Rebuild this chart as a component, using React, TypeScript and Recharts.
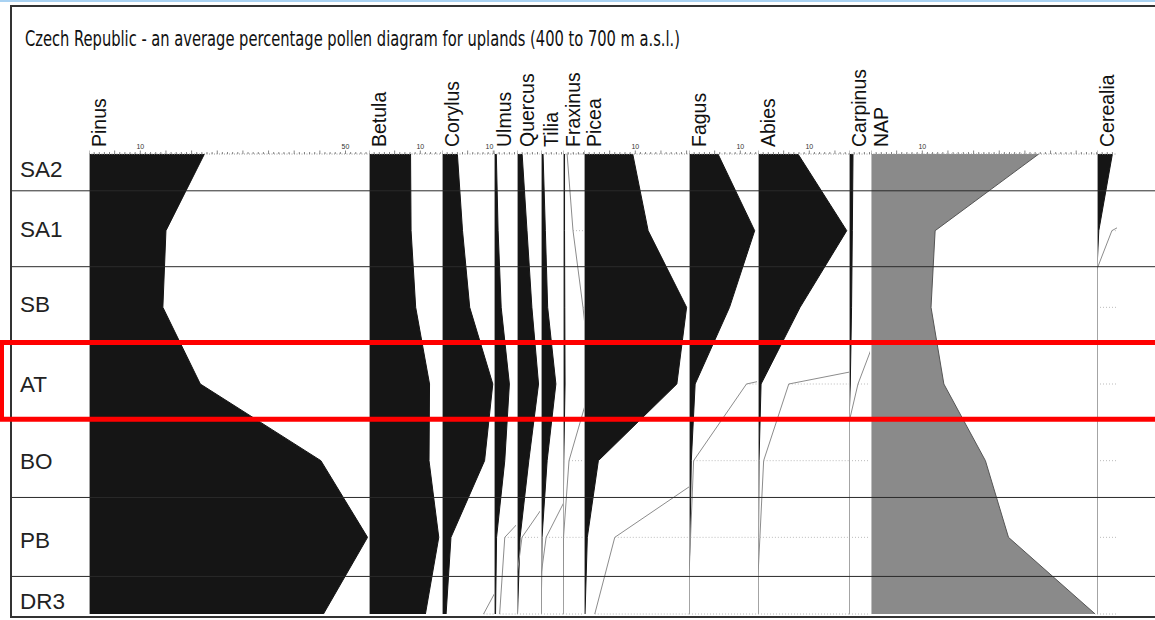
import React from 'react';
import { ComposedChart, Area, Line, XAxis, YAxis, ReferenceLine, ReferenceArea } from 'recharts';

// depth levels: samples at 0..6 (one per zone), half steps are the zone boundaries
const depths = [0, 0.5, 1, 1.5, 2, 2.5, 3, 3.5, 4, 4.5, 5, 5.5, 6];
const zones = ['SA2', 'SA1', 'SB', 'AT', 'BO', 'PB', 'DR3'];
const zoneLabelDepths = [0.2, 0.98, 1.96, 3.0, 4.0, 5.03, 5.83];
const zoneBounds = [0.48, 1.47, 2.46, 3.46, 4.48, 5.51];
const highlightZone = [2.46, 3.46]; // AT

// pollen percentages, null where the curve has no vertex
const pinus = [22.5, null, 15.0, null, 14.4, null, 21.7, null, 45.2, null, 54.3, null, 45.7];
const betula = [8.1, null, 8.2, null, 9.1, null, 11.8, null, 11.7, null, 13.6, null, 11.0];
const corylus = [3.0, null, 4.0, null, 5.4, null, 9.9, null, 8.3, null, 1.75, null, 0.8];
const ulmus = [0.45, null, 0.8, null, 1.4, null, 3.0, null, 2.1, null, 0.5, null, 0.3];
const quercus = [1.0, null, 1.95, null, 2.9, null, 4.2, null, 2.3, null, 0.6, null, 0.1];
const tilia = [0.4, null, 0.85, null, 1.3, null, 2.9, null, 1.2, null, 0.2, null, 0.05];
const fraxinus = [0.3, null, 0.3, null, 0.35, null, 0.4, null, 0.15, null, 0, null, 0];
const picea = [9.5, null, 12.5, null, 20.0, null, 18.1, null, 2.8, null, 0.65, null, 0.2];
const fagus = [5.65, null, 12.8, null, 7.9, null, 1.2, null, 0.45, null, 0.2, 0, 0];
const abies = [7.8, null, 17.3, null, 8.2, null, 0.6, null, 0.2, null, 0.1, 0, 0];
const carpinus = [0.78, null, 0.65, null, 0.5, null, 0.25, 0, 0, null, 0, null, 0];
const nap = [32.7, null, 12.5, null, 11.7, null, 14.2, null, 22.3, null, 26.8, null, 43.7];
const cerealia = [3.0, null, 0.35, 0, 0, null, 0, null, 0, null, 0, null, 0];

// 10x exaggeration curves (thin grey lines)
const corylusX = [null, null, null, null, null, null, null, null, 83, null, 16.1, null, 8.1];
const ulmusX = [null, null, null, null, null, null, null, null, 16, null, 2.1, null, 1.1];
const quercusX = [null, null, null, null, null, null, null, null, 11.3, null, 0.97, 0, 0];
const tiliaX = [null, null, null, null, null, null, null, null, 8.6, null, 1.0, 0, 0];
const fraxinusX = [0.8, null, 1.95, null, 3.9, null, 5.5, null, 1.17, null, 0.1, null, 0];
const piceaX = [null, null, null, null, null, null, null, null, 28, null, 6.0, null, 2.1];
const fagusX = [null, null, null, null, 79, null, 11.2, null, 0.9, null, 0.3, 0, 0];
const abiesX = [null, null, null, null, 82, null, 6.0, null, 1.1, null, 0.37, 0, 0];
const carpinusX = [null, null, null, null, 7.4, null, 1.75, 0, 0, null, 0, null, 0];
const cerealiaX = [30, null, 2.9, 0, 0, null, 0, null, 0, null, 0, null, 0];

const PX_PER_PCT = 5.13;
const TOP = 60;
const H = 560;
const PLOT_TOP = 154;
const PLOT_BOTTOM = 614;
const AXIS_H = 20;
const FONT = "'Liberation Sans', Arial, sans-serif";

type Panel = {
  name: string;
  values: (number | null)[];
  exag?: (number | null)[];
  left: number;
  right: number;
  tickLabels: number[];
  fill?: string;
  stroke?: string;
};

const panels: Panel[] = [
  { name: 'Pinus', values: pinus, left: 89, right: 368, tickLabels: [10, 50] },
  { name: 'Betula', values: betula, left: 369, right: 441, tickLabels: [10] },
  { name: 'Corylus', values: corylus, exag: corylusX, left: 442, right: 494, tickLabels: [10] },
  { name: 'Ulmus', values: ulmus, exag: ulmusX, left: 494, right: 516, tickLabels: [] },
  { name: 'Quercus', values: quercus, exag: quercusX, left: 517, right: 540, tickLabels: [] },
  { name: 'Tilia', values: tilia, exag: tiliaX, left: 541, right: 563, tickLabels: [] },
  { name: 'Fraxinus', values: fraxinus, exag: fraxinusX, left: 563, right: 584, tickLabels: [] },
  { name: 'Picea', values: picea, exag: piceaX, left: 584, right: 689, tickLabels: [10] },
  { name: 'Fagus', values: fagus, exag: fagusX, left: 689, right: 757, tickLabels: [10] },
  { name: 'Abies', values: abies, exag: abiesX, left: 758, right: 849, tickLabels: [10] },
  { name: 'Carpinus', values: carpinus, exag: carpinusX, left: 849, right: 870, tickLabels: [] },
  { name: 'NAP', values: nap, left: 871, right: 1097, tickLabels: [10], fill: '#8a8a8a', stroke: '#555' },
  { name: 'Cerealia', values: cerealia, exag: cerealiaX, left: 1097, right: 1117, tickLabels: [] },
];

const PctTick = (props: any) => {
  const { x, y, payload, labels, width } = props;
  const v = payload.value;
  const major = v % 5 === 0;
  const nearEnd = v * PX_PER_PCT + 4 > width;
  return (
    <g>
      <line x1={x} x2={x} y1={y} y2={y - (major ? 3.5 : 2)} stroke="#666" strokeWidth={0.8} />
      {labels.includes(v) && (
        <text x={x} y={y - 5} textAnchor={nearEnd ? 'end' : 'middle'} fontSize={7} fill="#333" fontFamily={FONT}>
          {v}
        </text>
      )}
    </g>
  );
};

const TaxonLabel = (props: any) => {
  const { viewBox, text } = props;
  const x = viewBox.x + 17;
  const y = viewBox.y + viewBox.height - 7;
  return (
    <text x={x} y={y} transform={`rotate(-90 ${x} ${y})`} fontSize={19.5} fontFamily={FONT} fill="#111">
      {text}
    </text>
  );
};

const PollenPanel = ({ p }: { p: Panel }) => {
  const width = p.right - p.left;
  const max = width / PX_PER_PCT;
  const data = depths.map((depth, i) => ({
    depth,
    value: p.values[i],
    exag: p.exag ? p.exag[i] : null,
  }));
  const ticks = Array.from({ length: Math.floor(max) + 1 }, (_, i) => i);
  // dotted guide lines where the exaggeration curve stays inside the column
  const guides = p.exag
    ? depths
        .map((d, i) => ({ d, e: p.exag![i], i }))
        .filter((o) => o.i % 2 === 0 && o.e != null && (o.e as number) <= max)
    : [];
  return (
    <div style={{ position: 'absolute', left: p.left, top: TOP, width, height: H }}>
      <ComposedChart
        layout="vertical"
        width={width}
        height={H}
        data={data}
        margin={{ top: PLOT_TOP - TOP - AXIS_H, bottom: TOP + H - PLOT_BOTTOM, left: 0, right: 0 }}
      >
        <XAxis
          type="number"
          orientation="top"
          domain={[0, max]}
          allowDataOverflow
          ticks={ticks}
          interval={0}
          height={AXIS_H}
          tickSize={0}
          tickMargin={0}
          tickLine={false}
          axisLine={{ stroke: '#999', strokeDasharray: '1 1.5' }}
          tick={(tp: any) => <PctTick {...tp} labels={p.tickLabels} width={width} />}
          label={<TaxonLabel text={p.name} />}
        />
        <YAxis type="number" dataKey="depth" domain={[0, 6]} hide />
        <ReferenceLine x={0} stroke="#cfcfcf" strokeWidth={1.5} />
        {guides.map((g) => (
          <ReferenceLine
            key={g.d}
            segment={[{ x: g.e as number, y: g.d }, { x: max, y: g.d }]}
            stroke="#bbb"
            strokeDasharray="1 2"
          />
        ))}
        <Area
          dataKey="value"
          type="linear"
          fill={p.fill ?? '#151515'}
          stroke={p.stroke ?? '#151515'}
          fillOpacity={1}
          strokeWidth={1}
          connectNulls
          dot={false}
          activeDot={false}
          isAnimationActive={false}
        />
        {p.exag && (
          <Line
            dataKey="exag"
            type="linear"
            stroke="#8c8c8c"
            strokeWidth={1}
            connectNulls
            dot={false}
            activeDot={false}
            isAnimationActive={false}
          />
        )}
      </ComposedChart>
    </div>
  );
};

const ZoneTick = (props: any) => {
  const { x, y, index } = props;
  return (
    <text x={x + 8} y={y} dy={8} textAnchor="start" fontSize={22.5} fontFamily={FONT} fill="#222">
      {zones[index]}
    </text>
  );
};

const zoneRows = zones.map((zone, i) => ({ zone, depth: zoneLabelDepths[i], edge: 0 }));

export default function App() {
  return (
    <div
      style={{
        position: 'absolute',
        left: 0,
        top: 0,
        width: 1155,
        height: 620,
        overflow: 'hidden',
        background: '#fff',
      }}
    >
      <div style={{ position: 'absolute', left: 0, top: 0, width: 1155, height: 2, background: '#a9d2f2' }} />
      <div
        style={{
          position: 'absolute',
          left: 10,
          top: 5,
          width: 1160,
          height: 609,
          border: '2px solid #333',
        }}
      />
      <svg width={1155} height={60} style={{ position: 'absolute', left: 0, top: 0 }}>
        <text
          x={25}
          y={46}
          fontSize={21}
          fontFamily="'Liberation Sans Narrow', 'DejaVu Sans Condensed', 'Liberation Sans', sans-serif"
          textLength={655}
          lengthAdjust="spacingAndGlyphs"
          fill="#111"
        >
          Czech Republic - an average percentage pollen diagram for uplands (400 to 700 m a.s.l.)
        </text>
      </svg>

      {panels.map((p) => (
        <PollenPanel key={p.name} p={p} />
      ))}

      <div style={{ position: 'absolute', left: 0, top: TOP, pointerEvents: 'none' }}>
        <ComposedChart
          layout="vertical"
          width={1160}
          height={H}
          data={zoneRows}
          margin={{ top: PLOT_TOP - TOP, bottom: TOP + H - PLOT_BOTTOM, left: 0, right: 0 }}
        >
          <XAxis type="number" domain={[0, 1]} hide />
          <YAxis
            type="number"
            dataKey="depth"
            domain={[0, 6]}
            width={12}
            ticks={zoneLabelDepths}
            interval={0}
            tickLine={false}
            axisLine={false}
            tickSize={0}
            tickMargin={0}
            tick={ZoneTick}
          />
          <Line dataKey="edge" stroke="none" dot={false} activeDot={false} isAnimationActive={false} />
          {zoneBounds.map((b) => (
            <ReferenceLine key={b} y={b} stroke="#2a2a2a" strokeWidth={1} />
          ))}
        </ComposedChart>
      </div>

      <div style={{ position: 'absolute', left: 0, top: TOP, pointerEvents: 'none' }}>
        <ComposedChart
          layout="vertical"
          width={1165}
          height={H}
          data={zoneRows}
          margin={{ top: PLOT_TOP - TOP, bottom: TOP + H - PLOT_BOTTOM, left: 1.5, right: 0 }}
        >
          <XAxis type="number" domain={[0, 1]} hide />
          <YAxis type="number" dataKey="depth" domain={[0, 6]} hide />
          <Line dataKey="edge" stroke="none" dot={false} activeDot={false} isAnimationActive={false} />
          <ReferenceArea
            y1={highlightZone[0]}
            y2={highlightZone[1]}
            fill="none"
            fillOpacity={0}
            stroke="#ff0000"
            strokeWidth={5}
            ifOverflow="visible"
          />
        </ComposedChart>
      </div>
    </div>
  );
}
